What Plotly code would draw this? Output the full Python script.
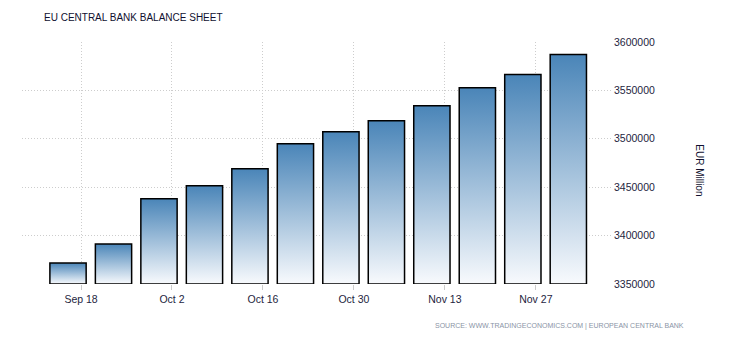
import pandas as pd
import plotly.graph_objects as go

# ---- data ----
dates = ["2016-09-16", "2016-09-23", "2016-09-30", "2016-10-07", "2016-10-14",
         "2016-10-21", "2016-10-28", "2016-11-04", "2016-11-11", "2016-11-18",
         "2016-11-25", "2016-12-02"]
values = [3371700, 3391400, 3438000, 3451400, 3469000, 3494900,
          3507300, 3518700, 3534200, 3552800, 3566300, 3587000]
y_ticks = [3350000, 3400000, 3450000, 3500000, 3550000, 3600000]
title_text = "EU CENTRAL BANK BALANCE SHEET"
y_title = "EUR Million"
source_text = "SOURCE: WWW.TRADINGECONOMICS.COM | EUROPEAN CENTRAL BANK"

base = 3350000
half_w = pd.Timedelta(hours=67)

fig = go.Figure()
for d, v in zip(pd.to_datetime(dates), values):
    xs = [d - half_w, d - half_w, d + half_w, d + half_w, d - half_w]
    ys = [base, v, v, base, base]
    fig.add_trace(go.Scatter(
        x=xs, y=ys, mode="lines", fill="toself",
        line=dict(color="#000000", width=1.5),
        fillgradient=dict(type="vertical",
                          colorscale=[[0, "#f8fafd"], [1, "#4a85b8"]]),
        hoverinfo="skip", showlegend=False,
    ))

tick_font = dict(family="Liberation Sans, Arial, sans-serif", size=10.5, color="#1e1e40")
grid_color = "#cdcdcd"
grid_dash = "1px,2px"

fig.update_layout(
    width=730, height=340,
    margin=dict(l=22, r=117, t=42, b=56),
    paper_bgcolor="white", plot_bgcolor="white",
    showlegend=False,
    title=dict(text=title_text, xref="container", yref="container",
               x=44 / 730, y=1 - 17 / 340, xanchor="left", yanchor="middle",
               font=dict(family="Liberation Sans, Arial, sans-serif", size=10, color="#101030")),
    xaxis=dict(
        type="date",
        range=["2016-09-08 22:00", "2016-12-08 21:00"],
        tick0="2016-09-18", dtick=14 * 86400000,
        tickformat="%b %-d",
        showgrid=True, gridcolor=grid_color, griddash=grid_dash, gridwidth=1,
        ticks="outside", ticklen=5, tickcolor="#cccccc",
        showline=False, zeroline=False,
        tickfont=tick_font,
    ),
    yaxis=dict(
        side="right",
        range=[base, 3600000],
        tickvals=y_ticks,
        ticktext=[str(t) for t in y_ticks],
        showgrid=True, gridcolor=grid_color, griddash=grid_dash, gridwidth=1,
        showline=False, zeroline=False, ticks="",
        tickfont=tick_font,
    ),
    annotations=[
        dict(text=y_title, xref="paper", yref="paper",
             x=(700 - 22) / 591, y=0.47, textangle=90,
             showarrow=False, xanchor="center", yanchor="middle",
             font=dict(family="Liberation Sans, Arial, sans-serif", size=10, color="#101030")),
        dict(text=source_text, xref="paper", yref="paper",
             x=(686 - 22) / 591, y=(284.3 - 326) / 241.8,
             showarrow=False, xanchor="right", yanchor="middle",
             font=dict(family="Liberation Sans, Arial, sans-serif", size=7, color="#8a94a6")),
    ],
)

fig.write_html("out.html")
